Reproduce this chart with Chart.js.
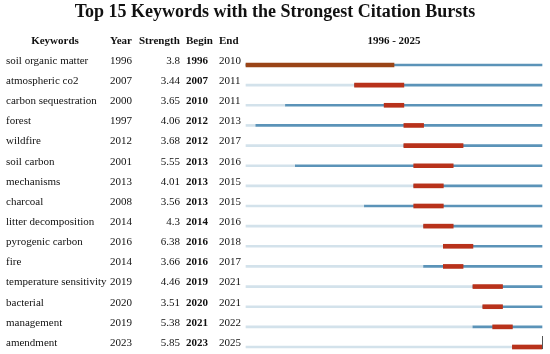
<!DOCTYPE html>
<html lang="en">
<head>
    <meta charset="UTF-8">
    <script src="https://cdn.jsdelivr.net/npm/chart.js"></script>
    <title>Citation Bursts</title>
    <style>
    body {
        margin: 0;
        background-color: white;
    }
    #burstChart {
        display: block;
    }
</style>
</head>
<body>
    <canvas id="burstChart" width="550" height="354"></canvas>

    <script>
        // Table data
        const keywords = ['soil organic matter', 'atmospheric co2', 'carbon sequestration', 'forest', 'wildfire',
            'soil carbon', 'mechanisms', 'charcoal', 'litter decomposition', 'pyrogenic carbon', 'fire',
            'temperature sensitivity', 'bacterial', 'management', 'amendment'];
        const years = [1996, 2007, 2000, 1997, 2012, 2001, 2013, 2008, 2014, 2016, 2014, 2019, 2020, 2019, 2023];
        const strengths = ['3.8', '3.44', '3.65', '4.06', '3.68', '5.55', '4.01', '3.56', '4.3', '6.38', '3.66', '4.46', '3.51', '5.38', '5.85'];
        const begins = [1996, 2007, 2010, 2012, 2012, 2013, 2013, 2013, 2014, 2016, 2016, 2019, 2020, 2021, 2023];
        const ends = [2010, 2011, 2011, 2013, 2017, 2016, 2015, 2015, 2016, 2018, 2017, 2021, 2021, 2022, 2025];
        const firstYear = 1996;
        const lastYear = 2025;

        // Colors
        const burstColors = keywords.map((k, i) => i === 0 ? '#9a4417' : '#b8321b');
        const activeColor = '#5b93b8';
        const idleColor = '#d3e2eb';

        // Draws the table text on the left
        const tablePlugin = {
            id: 'tableText',
            afterDraw(chart) {
                const ctx = chart.ctx;
                const yScale = chart.scales.y;
                const xScale = chart.scales.x;
                ctx.save();
                ctx.fillStyle = '#111';
                ctx.textBaseline = 'middle';

                // Title
                ctx.font = 'bold 18px "Liberation Serif", "Times New Roman", serif';
                ctx.textAlign = 'center';
                ctx.fillText('Top 15 Keywords with the Strongest Citation Bursts', 275, 12);

                // Headers
                ctx.font = 'bold 11px "Liberation Serif", "Times New Roman", serif';
                ctx.fillText('Keywords', 55, 41);
                ctx.fillText(firstYear + ' - ' + lastYear, 394, 41);
                ctx.textAlign = 'left';
                ctx.fillText('Year', 110, 41);
                ctx.fillText('Strength', 139, 41);
                ctx.fillText('Begin', 186, 41);
                ctx.fillText('End', 219, 41);

                // Rows
                keywords.forEach((k, i) => {
                    const y = yScale.getPixelForValue(i) - 4;
                    ctx.font = '11px "Liberation Serif", "Times New Roman", serif';
                    ctx.textAlign = 'left';
                    ctx.fillText(k, 6, y);
                    ctx.fillText(String(years[i]), 110, y);
                    ctx.fillText(String(ends[i]), 219, y);
                    ctx.textAlign = 'right';
                    ctx.fillText(strengths[i], 180, y);
                    ctx.font = 'bold 11px "Liberation Serif", "Times New Roman", serif';
                    ctx.textAlign = 'left';
                    ctx.fillText(String(begins[i]), 186, y);
                });

                // small end marker on the last row
                const last = keywords.length - 1;
                const ex = xScale.getPixelForValue(lastYear + 1);
                const ey = yScale.getPixelForValue(last);
                ctx.strokeStyle = '#555';
                ctx.lineWidth = 1;
                ctx.beginPath();
                ctx.moveTo(ex + 0.5, ey - 11);
                ctx.lineTo(ex + 0.5, ey + 2);
                ctx.stroke();
                ctx.restore();
            }
        };

        const burstChart = new Chart(document.getElementById('burstChart'), {
            type: 'bar',
            data: {
                labels: keywords,
                datasets: [{
                    label: 'Burst',
                    data: keywords.map((k, i) => [begins[i], ends[i] + 1]),
                    backgroundColor: burstColors,
                    barThickness: 4,
                    grouped: false,
                    order: 0,
                    clip: false
                }, {
                    label: 'Active',
                    data: keywords.map((k, i) => [years[i], lastYear + 1]),
                    backgroundColor: activeColor,
                    barThickness: 2,
                    grouped: false,
                    order: 1,
                    clip: false
                }, {
                    label: 'Idle',
                    data: keywords.map((k, i) => [firstYear, years[i]]),
                    backgroundColor: idleColor,
                    barThickness: 2,
                    grouped: false,
                    order: 2,
                    clip: false
                }]
            },
            options: {
                indexAxis: 'y',
                responsive: false,
                animation: false,
                layout: {
                    padding: { left: 246, right: 8, top: 65, bottom: 7 }
                },
                scales: {
                    x: { type: 'linear', min: firstYear, max: lastYear + 1, display: false },
                    y: { offset: false, display: false }
                },
                plugins: {
                    legend: { display: false },
                    tooltip: { enabled: false }
                }
            },
            plugins: [tablePlugin]
        });
    </script>
</body>
</html>
